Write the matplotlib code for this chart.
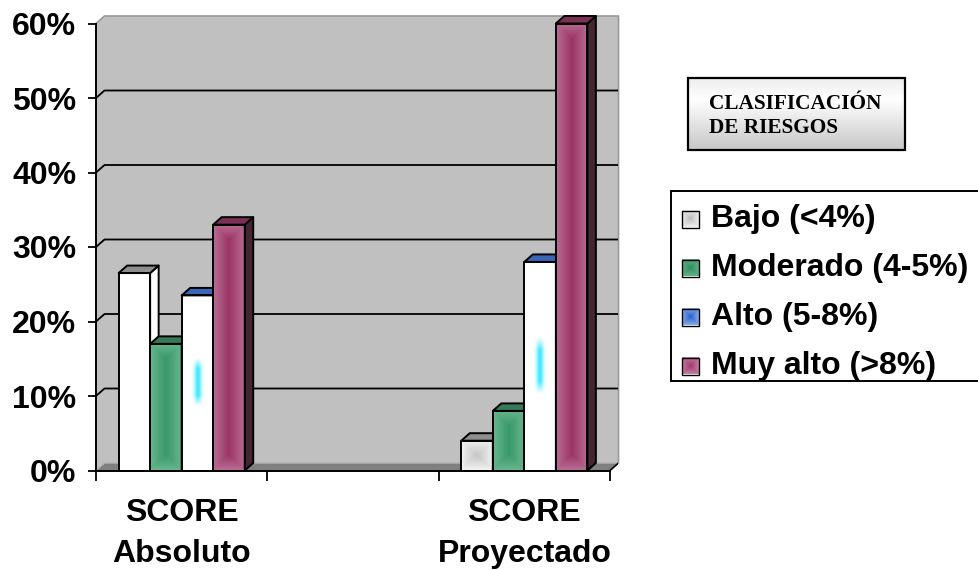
import numpy as np
import matplotlib
matplotlib.use("Agg")
import matplotlib.pyplot as plt
from matplotlib.patches import Polygon, Rectangle
from matplotlib.colors import to_rgb

# ---- data ----
categories = ["SCORE\nAbsoluto", "", "SCORE\nProyectado"]
series_names = ["Bajo (<4%)", "Moderado (4-5%)", "Alto (5-8%)", "Muy alto (>8%)"]
bajo = [26.5, np.nan, 4.0]
moderado = [17.0, np.nan, 8.0]
alto = [23.5, np.nan, 28.0]
muy_alto = [33.0, np.nan, 60.0]
y_ticks = [0, 10, 20, 30, 40, 50, 60]
y_tick_labels = ["0%", "10%", "20%", "30%", "40%", "50%", "60%"]
title_text = "CLASIFICACIÓN\nDE RIESGOS"

values = [bajo, moderado, alto, muy_alto]

# ---- styles ----
plt.rcParams["font.family"] = ["Liberation Sans", "DejaVu Sans"]
plt.rcParams["font.weight"] = "bold"

front_grad = [("#f3f3f3", "#c4c4c4"), ("#69b68e", "#389969"),
              ("#ffffff", "#ffffff"), ("#b96e94", "#9c3466")]
top_colors = ["#8e8e8e", "#347a56", "#3a66b8", "#7b3156"]
side_colors = ["#ffffff", "#2f6e4d", "#e8e8e8", "#432630"]
marker_grad = [("#f0f0f0", "#bdbdbd"), ("#62b088", "#2f8f5f"),
               ("#86aee8", "#2a60cc"), ("#c47ea3", "#a03a6c")]
plain_fronts = {(0, 0)}      # (series, category) drawn flat white
streak_series = 2            # series whose face carries a cyan glow

W, H, DPI = 979, 570, 100
fig = plt.figure(figsize=(W / DPI, H / DPI), dpi=DPI)
fig.patch.set_facecolor("white")

# frame geometry (pixels)
X0_PX, X1_PX = 96, 610
Y0_PX, YTOP_PX = 470.5, 23.5
DEPTH_PX = (8.5, 7.5)

n_cat = len(categories)
ymax = y_ticks[-1]
px_per_cat = (X1_PX - X0_PX) / n_cat
px_per_pct = (Y0_PX - YTOP_PX) / ymax
DX = DEPTH_PX[0] / px_per_cat
DY = DEPTH_PX[1] / px_per_pct

ax = fig.add_axes([X0_PX / W, 1 - Y0_PX / H,
                   (X1_PX + DEPTH_PX[0] - X0_PX) / W,
                   (Y0_PX - YTOP_PX + DEPTH_PX[1]) / H])
ax.patch.set_visible(False)


def rect_gradient(edge, center, w_px, h_px):
    nx = max(int(round(w_px)), 2)
    ny = max(int(round(h_px)), 2)
    xs = (np.arange(nx) + 0.5) / nx * w_px
    ys = (np.arange(ny) + 0.5) / ny * h_px
    X, Y = np.meshgrid(xs, ys)
    d = np.minimum.reduce([X, w_px - X, Y, h_px - Y]) / (w_px / 2)
    t = np.clip(d, 0, 1)
    e = np.array(to_rgb(edge))
    c = np.array(to_rgb(center))
    return e + (c - e) * t[..., None]


def glow(w_px, h_px):
    nx = max(int(round(w_px)) * 2, 2)
    ny = max(int(round(h_px)), 2)
    u = (np.arange(nx) + 0.5) / nx - 0.5
    v = (np.arange(ny) + 0.5) / ny - 0.5
    U, V = np.meshgrid(u, v)
    a = np.exp(-(U / 0.11) ** 2) * np.clip((0.135 - np.abs(V)) / 0.06, 0, 1)
    img = np.zeros((ny, nx, 4))
    img[..., 0] = 0.25
    img[..., 1] = 0.92
    img[..., 2] = 1.0
    img[..., 3] = a
    return img


# walls and floor
wall = "#c0c0c0"
ax.add_patch(Polygon([(0, 0), (DX, DY), (n_cat + DX, DY), (n_cat + DX, ymax + DY),
                      (DX, ymax + DY), (0, ymax)], closed=True, fc=wall, ec="none", zorder=0))
ax.plot([0, DX, n_cat + DX, n_cat + DX], [ymax, ymax + DY, ymax + DY, DY],
        color="#9a9a9a", lw=1.2, zorder=1, clip_on=False)
ax.add_patch(Polygon([(0, 0), (n_cat, 0), (n_cat + DX, DY), (DX, DY)],
                     closed=True, fc="#808080", ec="none", zorder=1))
ax.plot([0, DX, n_cat + DX], [0, DY, DY], color="#b4b4b4", lw=1.0, zorder=1.1)
ax.plot([n_cat, n_cat + DX], [0, DY], color="black", lw=1.2, zorder=1.1)
for t in y_ticks[1:-1]:
    ax.plot([0, DX, n_cat + DX], [t, t + DY, t + DY], color="black", lw=1.3, zorder=1.2)

# bars
bar_w = 0.184
n_ser = len(values)
for c in range(n_cat):
    for j in range(n_ser):
        v = values[j][c]
        if np.isnan(v):
            continue
        x0 = c + 0.5 - n_ser / 2 * bar_w + j * bar_w
        z = 10 + c * 10 + j * 2
        w_px = bar_w * px_per_cat
        h_px = v * px_per_pct
        if (j, c) in plain_fronts:
            img = rect_gradient("#ffffff", "#ffffff", w_px, h_px)
        else:
            img = rect_gradient(*front_grad[j], w_px, h_px)
        ax.imshow(img, extent=(x0, x0 + bar_w, 0, v), origin="lower",
                  aspect="auto", interpolation="bilinear", zorder=z)
        if j == streak_series:
            ax.imshow(glow(w_px, h_px), extent=(x0, x0 + bar_w, 0, v), origin="lower",
                      aspect="auto", interpolation="bilinear", zorder=z + 0.1)
        ax.add_patch(Polygon([(x0 + bar_w, 0), (x0 + bar_w + DX, DY),
                              (x0 + bar_w + DX, v + DY), (x0 + bar_w, v)],
                             closed=True, fc=side_colors[j], ec="black", lw=1.4,
                             joinstyle="round", zorder=z + 0.5, clip_on=False))
        ax.add_patch(Polygon([(x0, v), (x0 + bar_w, v), (x0 + bar_w + DX, v + DY),
                              (x0 + DX, v + DY)],
                             closed=True, fc=top_colors[j], ec="black", lw=1.4,
                             joinstyle="round", zorder=z + 0.5, clip_on=False))
        ax.add_patch(Rectangle((x0, 0), bar_w, v, fill=False, ec="black", lw=1.4,
                               joinstyle="round", zorder=z + 0.6, clip_on=False))

ax.set_xlim(0, n_cat + DX)
ax.set_ylim(0, ymax + DY)

# axes
for s in ("top", "right"):
    ax.spines[s].set_visible(False)
ax.spines["left"].set_bounds(0, ymax)
ax.spines["bottom"].set_bounds(0, n_cat)
for s in ("left", "bottom"):
    ax.spines[s].set_linewidth(1.4)
    ax.spines[s].set_zorder(60)

ax.set_yticks(y_ticks, y_tick_labels)
ax.tick_params(axis="y", direction="out", length=5.8, width=1.3, pad=8.5, labelsize=23)
ax.set_xticks(np.arange(n_cat + 1), [""] * (n_cat + 1))
ax.tick_params(axis="x", which="major", direction="out", length=7.2, width=1.3)
ax.set_xticks(np.arange(n_cat) + 0.5, categories, minor=True)
ax.tick_params(axis="x", which="minor", length=0, pad=19.5, labelsize=23)
for lbl in ax.get_yticklabels() + ax.get_xticklabels(minor=True):
    lbl.set_fontweight("bold")
for lbl in ax.get_xticklabels(minor=True):
    lbl.set_linespacing(1.5)

# overlay for the classification box and legend (pixel coordinates)
ov = fig.add_axes([0, 0, 1, 1])
ov.set_xlim(0, W)
ov.set_ylim(H, 0)
ov.axis("off")

bx0, bx1, by0, by1 = 688, 905, 78, 150
stops = np.interp(np.linspace(0, 1, 80), [0, 0.3, 1], [0.93, 1.0, 0.78])
ov.imshow(np.repeat(stops[:, None, None], 3, axis=2) * np.ones((80, 4, 3)),
          extent=(bx0, bx1, by1, by0), aspect="auto", interpolation="bilinear", zorder=1)
ov.add_patch(Rectangle((bx0, by0), bx1 - bx0, by1 - by0, fill=False, ec="black", lw=1.6, zorder=2))
for k, line in enumerate(title_text.split("\n")):
    ov.text(709, 109 + k * 24, line, ha="left", va="baseline", fontsize=15.3,
            fontweight="bold", family=["Liberation Serif", "DejaVu Serif"], zorder=3)

lx0, ly0, ly1 = 671, 191, 381
ov.add_patch(Rectangle((lx0, ly0), 340, ly1 - ly0, fc="white", ec="black", lw=1.4,
                       zorder=1, clip_on=False))
row_y = [219, 268, 317, 366]
for j, name in enumerate(series_names):
    yc = row_y[j]
    m = rect_gradient(*marker_grad[j], 17, 17)
    ov.imshow(m, extent=(682, 699, yc + 8.5, yc - 8.5), aspect="auto",
              interpolation="bilinear", zorder=2)
    ov.add_patch(Rectangle((682, yc - 8.5), 17, 17, fill=False, ec="black", lw=1.0, zorder=3))
    ov.text(711, yc, name, ha="left", va="center", fontsize=23, fontweight="bold", zorder=3)

ov.set_xlim(0, W)
ov.set_ylim(H, 0)

fig.savefig("out.png", dpi=DPI, facecolor="white")
